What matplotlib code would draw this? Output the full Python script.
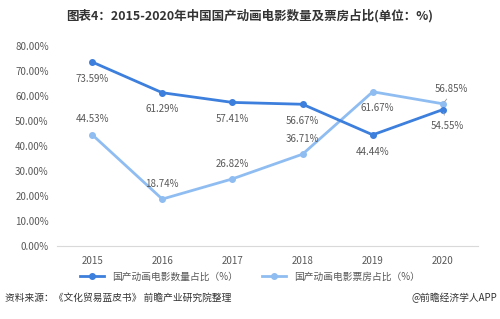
import matplotlib
matplotlib.use('Agg')
import matplotlib.pyplot as plt
from matplotlib.ticker import FuncFormatter

plt.rcParams['font.family'] = ['Noto Sans CJK SC', 'DejaVu Sans']

years = ['2015', '2016', '2017', '2018', '2019', '2020']
count_share = [73.59, 61.29, 57.41, 56.67, 44.44, 54.55]
box_share = [44.53, 18.74, 26.82, 36.71, 61.67, 56.85]
count_label = '国产动画电影数量占比（%）'
box_label = '国产动画电影票房占比（%）'

dark = '#3d7fdc'
light = '#8fbdf2'
grey = '#595959'

fig = plt.figure(figsize=(5, 3.19), dpi=100)
ax = fig.add_axes([0.114, 0.229, 0.842, 0.627])

x = list(range(len(years)))
ax.plot(x, count_share, color=dark, lw=2, marker='o', ms=4, label=count_label, zorder=3)
ax.plot(x, box_share, color=light, lw=2, marker='o', ms=4, label=box_label, zorder=2)

# data labels: offsets in points (dx, dy)
count_off = [(0, -12), (0, -12), (0, -12), (0, -12), (0, -12), (3, -12)]
box_off = [(0, 11), (0, 11), (0, 11), (0, 11), (3, -12), (6, 11)]
for i in x:
    dx, dy = count_off[i]
    ax.annotate(f'{count_share[i]:.2f}%', (i, count_share[i]), xytext=(dx, dy),
                textcoords='offset points', ha='center', va='center',
                fontsize=7, color=grey)
    dx, dy = box_off[i]
    ax.annotate(f'{box_share[i]:.2f}%', (i, box_share[i]), xytext=(dx, dy),
                textcoords='offset points', ha='center', va='center',
                fontsize=7, color=grey)

# leader lines at 2020
ax.annotate('', (5, count_share[5]), xytext=(1.5, -6), textcoords='offset points',
            arrowprops=dict(arrowstyle='-', color='#999999', lw=0.6))
ax.annotate('', (5, box_share[5]), xytext=(4, 5), textcoords='offset points',
            arrowprops=dict(arrowstyle='-', color='#999999', lw=0.6))

ax.set_xlim(-0.5, 5.5)
ax.set_ylim(0, 80)
ax.set_yticks(range(0, 81, 10))
ax.yaxis.set_major_formatter(FuncFormatter(lambda v, p: f'{v:.2f}%'))
ax.set_xticks(x)
ax.set_xticklabels(years)
ax.tick_params(axis='both', length=0, labelsize=7, colors=grey)
ax.tick_params(axis='y', pad=6)
ax.tick_params(axis='x', pad=7)
for s in ['top', 'right', 'left']:
    ax.spines[s].set_visible(False)
ax.spines['bottom'].set_color('#d9d9d9')

leg = fig.legend(loc='center', bbox_to_anchor=(0.5, 0.132), ncol=2, frameon=False,
                 fontsize=7, handlelength=2.5, columnspacing=2.5)
for t in leg.get_texts():
    t.set_color(grey)

fig.text(0.5, 0.95, '图表4：2015-2020年中国国产动画电影数量及票房占比(单位：%)',
         ha='center', va='center', fontsize=9, fontweight='bold', color='#333333')
fig.text(0.01, 0.065, '资料来源：《文化贸易蓝皮书》 前瞻产业研究院整理',
         ha='left', va='center', fontsize=7, color='#333333')
fig.text(0.995, 0.065, '@前瞻经济学人APP', ha='right', va='center',
         fontsize=7, color='#333333')

fig.savefig('out.png', dpi=100)
